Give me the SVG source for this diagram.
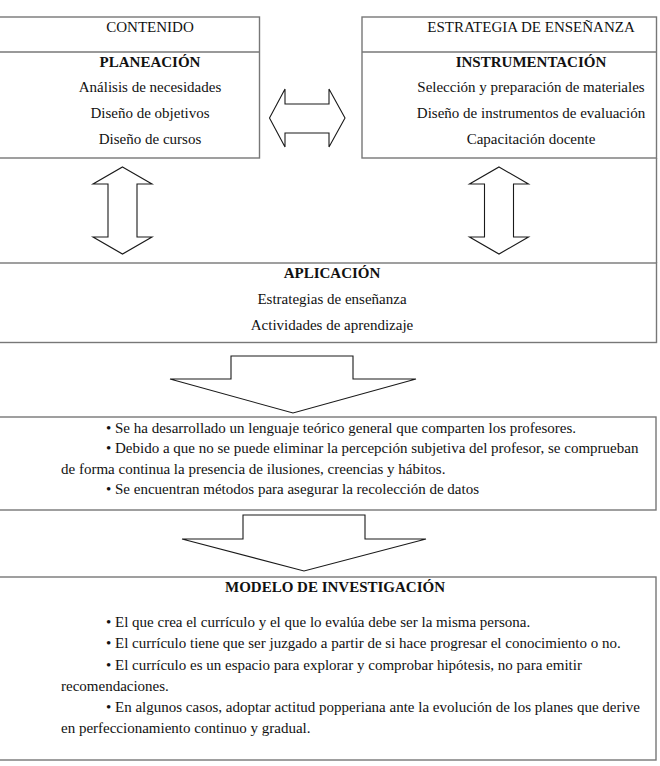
<svg xmlns="http://www.w3.org/2000/svg" width="660" height="766" viewBox="0 0 660 766">
<style>
  .box { fill: #ffffff; stroke: #777777; stroke-width: 1.4; }
  .div { stroke: #777777; stroke-width: 1.4; fill: none; }
  .arr { fill: #ffffff; stroke: #1a1a1a; stroke-width: 1.1; stroke-linejoin: miter; }
  text { font-family: "Liberation Serif", "Times New Roman", serif; font-size: 15px; fill: #111111; }
  .c { text-anchor: middle; }
  .b { font-weight: bold; }
</style>
<rect width="660" height="766" fill="#ffffff"/>

<g id="contenido">
  <rect class="box" x="-2" y="17" width="261.5" height="141"/>
  <line class="div" x1="-2" y1="52" x2="259.5" y2="52"/>
  <text class="c" x="150" y="31.5">CONTENIDO</text>
  <text class="c b" x="150" y="66.5">PLANEACIÓN</text>
  <text class="c" x="150" y="92">Análisis de necesidades</text>
  <text class="c" x="150" y="118">Diseño de objetivos</text>
  <text class="c" x="150" y="144">Diseño de cursos</text>
</g>

<g id="estrategia">
  <rect class="box" x="362" y="17" width="294.5" height="141"/>
  <line class="div" x1="362" y1="52" x2="656.5" y2="52"/>
  <text class="c" x="531" y="31.5">ESTRATEGIA DE ENSEÑANZA</text>
  <text class="c b" x="531" y="66.5">INSTRUMENTACIÓN</text>
  <text class="c" x="531" y="92">Selección y preparación de materiales</text>
  <text class="c" x="531" y="118">Diseño de instrumentos de evaluación</text>
  <text class="c" x="531" y="144">Capacitación docente</text>
</g>

<g id="frame">
  <line class="div" x1="656.5" y1="158" x2="656.5" y2="263"/>
</g>

<g id="aplicacion">
  <rect class="box" x="-2" y="263" width="658.5" height="79.5"/>
  <text class="c b" x="332" y="278">APLICACIÓN</text>
  <text class="c" x="332" y="303.5">Estrategias de enseñanza</text>
  <text class="c" x="332" y="329.5">Actividades de aprendizaje</text>
</g>

<g id="resultados">
  <rect class="box" x="-2" y="417" width="658" height="93"/>
  <text x="106" y="432.5">• Se ha desarrollado un lenguaje teórico general que comparten los profesores.</text>
  <text x="106" y="453">• Debido a que no se puede eliminar la percepción subjetiva del profesor, se comprueban</text>
  <text x="61" y="473.5">de forma continua la presencia de ilusiones, creencias y hábitos.</text>
  <text x="106" y="494">• Se encuentran métodos para asegurar la recolección de datos</text>
</g>

<g id="modelo">
  <rect class="box" x="-2" y="577" width="658" height="183"/>
  <text class="c b" x="335" y="592">MODELO DE INVESTIGACIÓN</text>
  <text x="106" y="627">• El que crea el currículo y el que lo evalúa debe ser la misma persona.</text>
  <text x="106" y="648">• El currículo tiene que ser juzgado a partir de si hace progresar el conocimiento o no.</text>
  <text x="106" y="669.5">• El currículo es un espacio para explorar y comprobar hipótesis, no para emitir</text>
  <text x="61" y="690.5">recomendaciones.</text>
  <text x="106" y="711.5">• En algunos casos, adoptar actitud popperiana ante la evolución de los planes que derive</text>
  <text x="61" y="732.5">en perfeccionamiento continuo y gradual.</text>
</g>

<g id="connectors">
  <polygon class="arr" points="269.5,118 285,89 285,104 329,104 329,89 345,118 329,147 329,133 285,133 285,147"/>
  <polygon class="arr" points="122.5,167 152,184 137,184 137,237 152,237 122.5,254 93,237 108,237 108,184 93,184"/>
  <polygon class="arr" points="499,167 528.5,184 513.5,184 513.5,237 528.5,237 499,254 469.5,237 484.5,237 484.5,184 469.5,184"/>
  <polygon class="arr" points="231,356 353,356 353,379 416,379 293,413 170,379 231,379"/>
  <polygon class="arr" points="243,515 365,515 365,539 426,539 304,571 182,539 243,539"/>
</g>
</svg>
